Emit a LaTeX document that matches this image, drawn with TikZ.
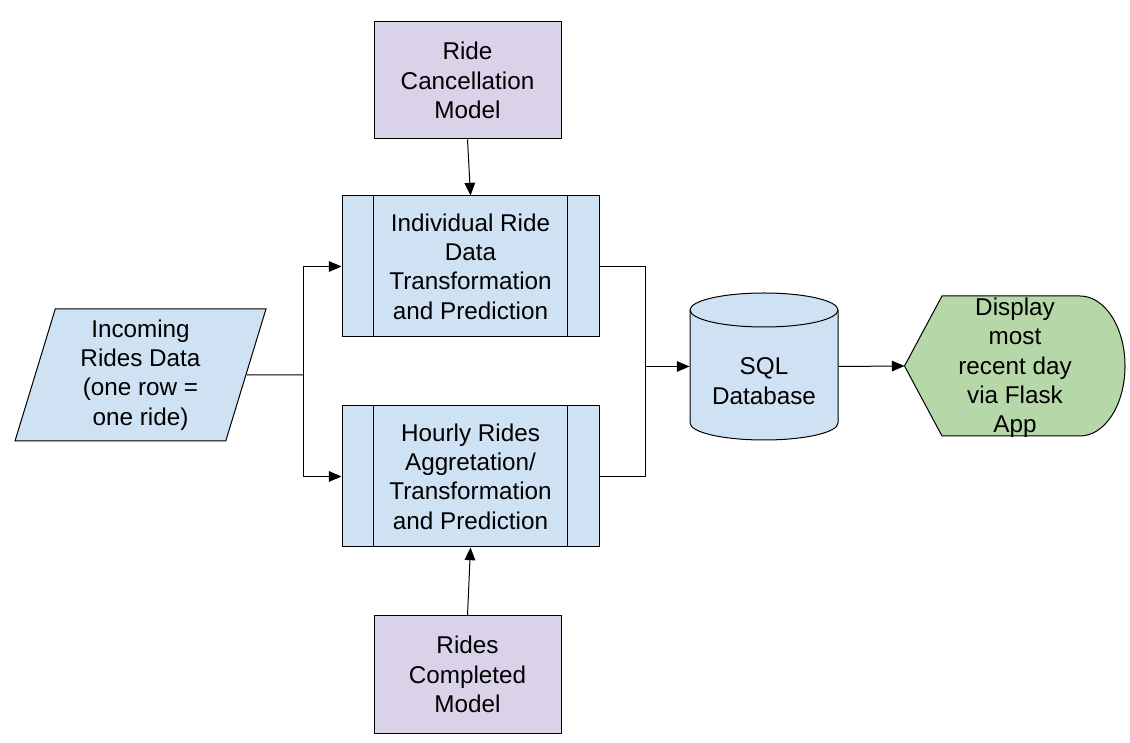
\documentclass[tikz,border=0pt]{standalone}
\usepackage{fontspec}
\setmainfont{Liberation Sans}
\usetikzlibrary{calc}
\usetikzlibrary{arrows.meta, shapes.geometric}
\definecolor{procblue}{HTML}{CFE2F3}
\definecolor{modelpurple}{HTML}{D9D2E9}
\definecolor{appgreen}{HTML}{B6D7A8}
\begin{document}
\begin{tikzpicture}[x=0.75pt, y=0.75pt, line width=0.75pt,
  every node/.style={font=\fontsize{18.2}{22}\selectfont, align=center, inner sep=0pt},
  arr/.style={-{Triangle[length=9.5pt, width=8pt]}},
  modelbox/.style={draw, fill=modelpurple, minimum width=140.25pt, minimum height=87.75pt},
  procbox/.style={draw, fill=procblue, minimum width=192.75pt, minimum height=105.75pt},
  databox/.style={trapezium, trapezium left angle=70, trapezium right angle=110,
    trapezium stretches body, draw, fill=procblue, minimum width=188.25pt, minimum height=99pt},
  dbshape/.style={draw, fill=procblue},
  appshape/.style={draw, fill=appgreen}]%
  \useasboundingbox (0,0) rectangle (1130,742);
  % boxes
  \node[modelbox] (cancel) at (467.5,661.5) {Ride\\Cancellation\\Model};
  \node[procbox] (ind) at (470.5,475.5) {Individual Ride\\Data\\Transformation\\and Prediction};
  \node[procbox] (hourly) at (470.5,265.5) {Hourly Rides\\Aggretation/\\Transformation\\and Prediction};
  \node[modelbox] (done) at (467.5,67.5) {Rides\\Completed\\Model};
  \node[databox] (inc) at (140.5,367) {Incoming\\Rides Data\\(one row =\\one ride)};
  \foreach \b in {ind, hourly} {
    \draw ([xshift=24pt]\b.north west) -- ([xshift=24pt]\b.south west);
    \draw ([xshift=-24pt]\b.north east) -- ([xshift=-24pt]\b.south east);
  }
  % database
  \filldraw[dbshape] (690,432) -- (690,319)
    arc[start angle=180, end angle=360, x radius=74, y radius=17]
    -- (838,432)
    arc[start angle=0, end angle=180, x radius=74, y radius=17] -- cycle;
  \draw (690,432) arc[start angle=180, end angle=360, x radius=74, y radius=17];
  \node[minimum width=111pt, minimum height=110.25pt] (sql) at (764,375.5) {};
  \node (sqllabel) at (764,361) {SQL\\Database};
  % display
  \node[minimum width=165pt, minimum height=105pt] (app) at (1015,376) {};
  \filldraw[appshape] (app.west) -- (942,446) -- (1080,446)
    arc[start angle=90, end angle=-90, x radius=45, y radius=70]
    -- (942,306) -- cycle;
  \node (applabel) at (1015,374) {Display\\most\\recent day\\via Flask\\App};
  % connectors
  \coordinate (split) at (303,367);
  \coordinate (merge) at (645,375.5);
  \draw (inc.east) -- (split);
  \draw[arr] (split) |- (ind.west);
  \draw[arr] (split) |- (hourly.west);
  \draw[arr] (cancel.south) -- (ind.north);
  \draw[arr] (done.north) -- (hourly.south);
  \draw (ind.east) -| (merge);
  \draw (hourly.east) -| (merge);
  \draw[arr] (merge) -- (sql.west);
  \draw[arr] (sql.east) -- (app.west);
\end{tikzpicture}
\end{document}
